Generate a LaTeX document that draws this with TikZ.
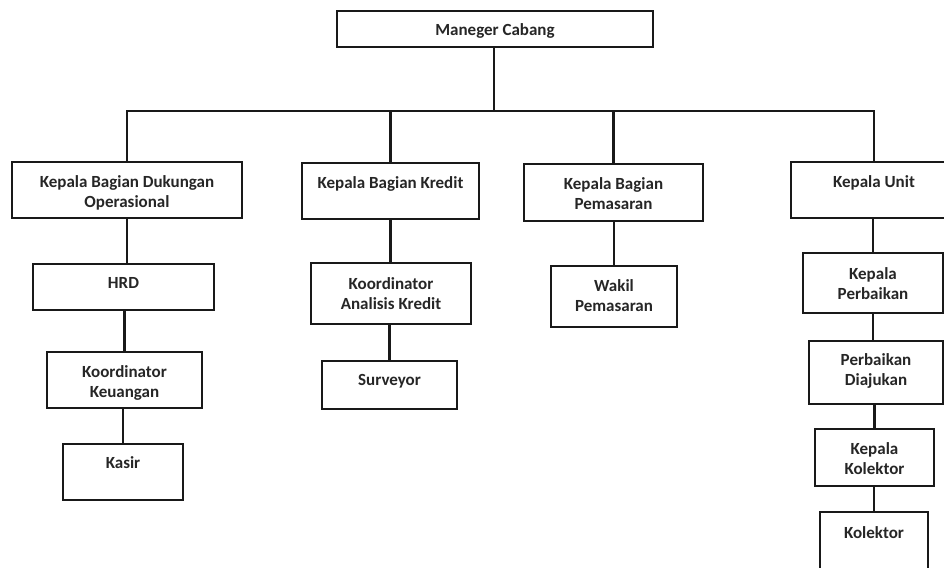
\documentclass[tikz,border=0pt]{standalone}
\usepackage{fontspec}
\setmainfont{Carlito}
\usetikzlibrary{calc}
\begin{document}
\begin{tikzpicture}[x=1pt,y=-1pt,
  box/.style={draw=black!90, line width=1.7pt, inner sep=0pt, fill=white},
  txt/.style={text=black!85, font=\bfseries\fontsize{17}{20}\selectfont, align=center, inner sep=0pt, anchor=north},
  link/.style={draw=black!90, line width=2.8pt}]
\useasboundingbox (0,0) rectangle (944,567);
% boxes: center, width, height
\node[box, minimum width=316, minimum height=36] (top) at (495,29) {};
\node[box, minimum width=230, minimum height=56] (b1) at (127,190) {};
\node[box, minimum width=177, minimum height=56] (b2) at (390.5,191) {};
\node[box, minimum width=179, minimum height=57] (b3) at (613.5,192.5) {};
\node[box, minimum width=166, minimum height=56] (b4) at (874,190) {};
\node[box, minimum width=181, minimum height=46] (hrd) at (123.5,287) {};
\node[box, minimum width=155, minimum height=56] (kk) at (124.5,380) {};
\node[box, minimum width=120, minimum height=56] (kasir) at (123,472) {};
\node[box, minimum width=160, minimum height=61] (kak) at (391,293.5) {};
\node[box, minimum width=135, minimum height=48] (sur) at (389.5,385) {};
\node[box, minimum width=126, minimum height=61] (wakil) at (614,296.5) {};
\node[box, minimum width=140, minimum height=60] (kp) at (873,283) {};
\node[box, minimum width=134, minimum height=63] (pd) at (876,372.5) {};
\node[box, minimum width=119, minimum height=57] (kkol) at (874.5,457.5) {};
\node[box, minimum width=108, minimum height=70] (kol) at (874,547) {};
% texts (first line centre - 5.4)
\node[txt] (ttop) at (495,23.6) {Maneger Cabang};
\node[txt] (tb1) at (127,175.6) {Kepala Bagian Dukungan\\Operasional};
\node[txt] (tb2) at (390.5,176.6) {Kepala Bagian Kredit};
\node[txt] (tb3) at (613.5,177.6) {Kepala Bagian\\Pemasaran};
\node[txt] (tb4) at (874,175.6) {Kepala Unit};
\node[txt] (thrd) at (123.5,277.6) {HRD};
\node[txt] (tkk) at (124.5,365.6) {Koordinator\\Keuangan};
\node[txt] (tkasir) at (123,456.6) {Kasir};
\node[txt] (tkak) at (391,277.6) {Koordinator\\Analisis Kredit};
\node[txt] (tsur) at (389.5,374.6) {Surveyor};
\node[txt] (twakil) at (614,279.6) {Wakil\\Pemasaran};
\node[txt] (tkp) at (873,267.6) {Kepala\\Perbaikan};
\node[txt] (tpd) at (876,353.6) {Perbaikan\\Diajukan};
\node[txt] (tkkol) at (874.5,442.6) {Kepala\\Kolektor};
\node[txt] (tkol) at (874,526.6) {Kolektor};
% connectors
\coordinate (bar) at (494,111);
\draw[link] (top.south -| bar) -- (bar);
\draw[link] (b1.north) -- (b1.north |- bar) -- (b4.north |- bar) -- (b4.north);
\draw[link] (b2.north) -- (b2.north |- bar);
\draw[link] (b3.north) -- (b3.north |- bar);
\draw[link] (b1.south) -- (b1.south |- hrd.north);
\draw[link] (kk.north) -- (kk.north |- hrd.south);
\draw[link] (kasir.north) -- (kasir.north |- kk.south);
\draw[link] (b2.south) -- (b2.south |- kak.north);
\draw[link] (sur.north) -- (sur.north |- kak.south);
\draw[link] (wakil.north) -- (wakil.north |- b3.south);
\draw[link] (kp.north) -- (kp.north |- b4.south);
\draw[link] (kp.south) -- (kp.south |- pd.north);
\draw[link] (kkol.north) -- (kkol.north |- pd.south);
\draw[link] (kol.north) -- (kol.north |- kkol.south);
\end{tikzpicture}
\end{document}
